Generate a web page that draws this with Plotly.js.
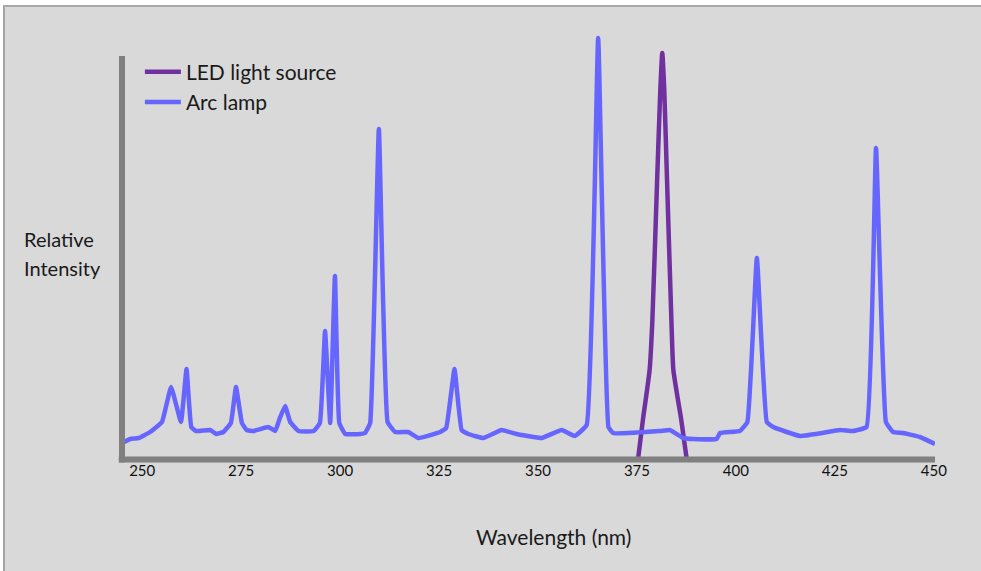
<!DOCTYPE html>
<html>
<head>
<meta charset="utf-8">
<script src="https://cdn.plot.ly/plotly-3.0.1.min.js"></script>
<style>
  html, body { margin: 0; padding: 0; background: #ffffff; }
  #frame { position: absolute; left: 3px; top: 5px; width: 976px; height: 564px;
           border-left: 2px solid #a3a3a3; border-top: 2px solid #a8a8a8; background: #d9d9d9; }
  #chart { width: 976px; height: 564px; }
</style>
</head>
<body>
<div id="frame"><div id="chart"></div></div>
<script>
// Arc lamp spectrum (wavelength nm, relative intensity)
const arcWavelength = [244.9, 247.0, 249.1, 252.0, 255.0, 257.3, 259.8, 261.2, 262.4, 263.6,
  267.2, 268.7, 270.5, 272.4, 273.7, 275.2, 276.4, 278.1, 281.9, 283.6,
  284.7, 286.1, 287.4, 289.5, 293.3, 294.9, 296.2, 297.5, 298.7, 299.8,
  301.3, 305.1, 306.3, 307.6, 309.8, 312.0, 313.9, 317.2, 319.8, 325.3,
  326.8, 328.9, 330.7, 332.4, 336.2, 340.8, 344.6, 350.9, 356.0, 359.3,
  362.3, 365.2, 367.8, 369.0, 380.8, 383.3, 386.7, 389.2, 395.1, 396.0,
  401.0, 402.9, 405.3, 407.8, 409.4, 416.2, 426.3, 429.6, 433.0, 435.4,
  437.9, 439.7, 442.2, 446.5, 450.3];
const arcIntensity = [17, 21, 22, 28, 38, 73, 38, 91, 33, 29,
  30, 26, 28, 37, 73, 37, 30, 29, 33, 29,
  41, 54, 38, 29, 29, 37, 129, 37, 184, 37,
  26, 26, 27, 37, 331, 38, 28, 28, 22, 28,
  32, 91, 30, 26, 22, 30, 26, 22, 30, 24,
  35, 422, 33, 27, 29, 30, 22, 21, 21, 27,
  29, 38, 202, 38, 33, 24, 30, 29, 33, 312,
  38, 28, 27, 23, 16];

// LED light source spectrum
const ledWavelength = [375.25, 376.5, 378.2, 378.9, 380.1, 380.9, 381.4, 381.9, 382.6, 383.7, 384.2, 386.2, 387.6];
const ledIntensity  = [0, 40, 90, 140, 280, 370, 407, 370, 280, 140, 90, 40, 0];

// Axis ticks
const tickValues = [250, 275, 300, 325, 350, 375, 400, 425, 450];
const tickLabels = ['250', '275', '300', '325', '350', '375', '400', '425', '450'];

const FONT = 'Lato, "Open Sans", sans-serif';

const traces = [
  { x: ledWavelength, y: ledIntensity, name: 'LED light source', type: 'scatter', mode: 'lines',
    line: { color: '#7030a0', width: 4.5, shape: 'spline', smoothing: 0.5 } },
  { x: arcWavelength, y: arcIntensity, name: 'Arc lamp', type: 'scatter', mode: 'lines',
    line: { color: '#6666ff', width: 4.5, shape: 'spline', smoothing: 0.3 } }
];

const layout = {
  width: 976, height: 564,
  margin: { l: 117, r: 46, t: 23, b: 111 },
  paper_bgcolor: '#d9d9d9', plot_bgcolor: '#d9d9d9',
  font: { family: FONT, color: '#1a1a1a' },
  showlegend: true,
  legend: { x: 0.022, y: 0.95, xanchor: 'left', yanchor: 'top', bgcolor: 'rgba(0,0,0,0)',
            font: { family: FONT, size: 21, color: '#1a1a1a' }, tracegroupgap: 0, itemwidth: 36 },
  xaxis: {
    range: [244.9, 450.3], tickvals: tickValues, ticktext: tickLabels, ticks: '',
    showgrid: false, zeroline: false, showline: false,
    tickfont: { family: FONT, size: 15, color: '#111111' },
    title: { text: '' },
    automargin: false, fixedrange: true
  },
  yaxis: {
    range: [0, 430], showticklabels: false, ticks: '', showgrid: false, zeroline: false,
    showline: false, fixedrange: true, title: { text: '' }
  },
  annotations: [
    { xref: 'paper', yref: 'paper', x: -0.123, y: (460 - 239) / 430, xanchor: 'left', yanchor: 'middle',
      align: 'left', showarrow: false, text: 'Relative',
      font: { family: FONT, size: 20, color: '#1a1a1a' } },
    { xref: 'paper', yref: 'paper', x: -0.123, y: (460 - 268) / 430, xanchor: 'left', yanchor: 'middle',
      align: 'left', showarrow: false, text: 'Intensity',
      font: { family: FONT, size: 20, color: '#1a1a1a' } },
    { xref: 'paper', yref: 'paper', x: (553 - 122) / 813, y: (460 - 536) / 430, xanchor: 'center', yanchor: 'middle',
      showarrow: false, text: 'Wavelength (nm)',
      font: { family: FONT, size: 21, color: '#1a1a1a' } }
  ],
  shapes: [
    { type: 'line', xref: 'paper', yref: 'paper', x0: -0.004, x1: 1.0, y0: 0.001, y1: 0.001,
      line: { color: '#808080', width: 6 }, layer: 'above' },
    { type: 'line', xref: 'paper', yref: 'paper', x0: 0, x1: 0, y0: -0.006, y1: 0.9395,
      line: { color: '#808080', width: 6 }, layer: 'above' }
  ]
};

Plotly.newPlot('chart', traces, layout, { displayModeBar: false, staticPlot: true });
</script>
</body>
</html>
